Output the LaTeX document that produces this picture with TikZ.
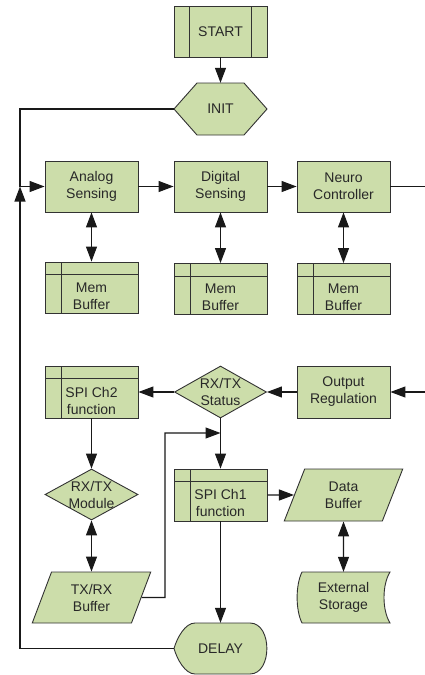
\documentclass[tikz,border=0pt]{standalone}
\usepackage{fontspec}
\setmainfont{Liberation Sans}
\usetikzlibrary{arrows.meta,shapes.geometric,backgrounds}
\definecolor{boxfill}{RGB}{204,221,170}
\definecolor{boxline}{RGB}{50,50,50}
\definecolor{txtclr}{RGB}{40,40,40}
\definecolor{lineclr}{RGB}{25,25,25}
\tikzset{
  shp/.style={draw=boxline, fill=boxfill, line width=0.9pt},
  txt/.style={text=txtclr, font=\fontsize{14}{17}\selectfont, align=center, inner sep=0pt},
  procbox/.style={shp, txt, rectangle, minimum width=93pt, minimum height=51pt},
  predef/.style={procbox, path picture={\draw[boxline, line width=0.9pt]
      ([xshift=15.5pt]path picture bounding box.north west) -- ([xshift=15.5pt]path picture bounding box.south west)
      ([xshift=-15.5pt]path picture bounding box.north east) -- ([xshift=-15.5pt]path picture bounding box.south east);}},
  intstore/.style={procbox, path picture={\draw[boxline, line width=0.9pt]
      ([xshift=16pt]path picture bounding box.north west) -- ([xshift=16pt]path picture bounding box.south west)
      ([yshift=-12.5pt]path picture bounding box.north west) -- ([yshift=-12.5pt]path picture bounding box.north east);}},
  plainbox/.style={txt, rectangle, minimum width=93pt, minimum height=51pt},
  decision/.style={shp, diamond, minimum width=92pt, minimum height=52pt, inner sep=0pt},
  iobox/.style={shp, txt, trapezium, trapezium left angle=70, trapezium right angle=110,
      trapezium stretches=true, minimum width=119pt, minimum height=51pt},
  lbl/.style={txt},
  link/.style={draw=lineclr, line width=1.1pt},
  >={Triangle[length=15pt,width=11pt]}
}
\begin{document}
\begin{tikzpicture}[x=1pt,y=-1pt]
\useasboundingbox (0,0) rectangle (425,675);
% row 1
\node[predef] (start) at (220.5,31.5) {START};
\node[plainbox, minimum height=52pt] (init) at (220.5,109) {INIT};
\node[procbox] (analog) at (91.5,186.5) {Analog\\Sensing};
\node[procbox] (digital) at (220.5,186.5) {Digital\\Sensing};
\node[procbox] (neuro) at (343.5,186.5) {Neuro\\Controller};
\node[intstore, label={[lbl,yshift=-8.5pt]center:Mem\\Buffer}] (mem1) at (91.5,287.5) {};
\node[intstore, label={[lbl,yshift=-8.5pt]center:Mem\\Buffer}] (mem2) at (220.5,289) {};
\node[intstore, label={[lbl,yshift=-8.5pt]center:Mem\\Buffer}] (mem3) at (343.5,289) {};
% row 2
\node[intstore, minimum height=52pt, label={[lbl,yshift=-8.5pt]center:SPI Ch2\\function}] (spi2) at (91.5,392) {};
\node[decision, label={[lbl]center:RX/TX\\Status}] (status) at (220.5,392) {};
\node[procbox, minimum height=52pt] (output) at (343.5,392) {Output\\Regulation};
\node[decision, minimum width=93pt, minimum height=51pt, label={[lbl]center:RX/TX\\Module}] (module) at (91.5,494.5) {};
\node[intstore, minimum height=52pt, label={[lbl,yshift=-8pt]center:SPI Ch1\\function}] (spi1) at (220.5,495) {};
\node[iobox, minimum height=52pt] (data) at (343.5,495) {Data\\Buffer};
\node[iobox] (txrx) at (91.5,597.5) {TX/RX\\Buffer};
\node[plainbox] (ext) at (343.5,597.5) {External\\Storage};
\node[plainbox] (delay) at (220.5,648.5) {DELAY};
% custom outlines
\begin{scope}[on background layer]
  \filldraw[shp] (174,109) -- (197,83) -- (244,83) -- (267,109) -- (244,135) -- (197,135) -- cycle;
  \filldraw[shp] (302,572) -- (390,572) .. controls (382,585) and (382,610) .. (390,623)
     -- (302,623) .. controls (295.5,610) and (295.5,585) .. (302,572) -- cycle;
  \filldraw[shp] (195,623) -- (250,623) .. controls (272.5,623) and (272.5,674) .. (250,674)
     -- (195,674) .. controls (185,674) and (177,659) .. (174,648.5)
     .. controls (177,638) and (185,623) .. (195,623) -- cycle;
\end{scope}
% free ends and bends
\coordinate (jl) at (20,186.5);
\coordinate (rt) at (425,186.5);
\coordinate (rm) at (425,392);
\coordinate (jb) at (165,597.5);
\coordinate (js) at (220.5,433);
% connectors
\draw[link,->] (start) -- (init);
\draw[link,->] (init.west) -| (jl) -- (analog.west);
\draw[link,->] (delay.west) -| (jl);
\draw[link,->] (analog) -- (digital);
\draw[link,->] (digital) -- (neuro);
\draw[link] (neuro) -- (rt);
\draw[link,<->] (analog) -- (mem1);
\draw[link,<->] (digital) -- (mem2);
\draw[link,<->] (neuro) -- (mem3);
\draw[link,->] (rm) -- (output);
\draw[link,->] (output) -- (status);
\draw[link,->] (status) -- (spi2);
\draw[link,->] (spi2) -- (module);
\draw[link,<->] (module) -- (txrx);
\draw[link,->] (txrx.east) -- (jb) |- (js);
\draw[link,->] (status) -- (spi1);
\draw[link,->] (spi1) -- (data);
\draw[link,<->] (data) -- (ext);
\draw[link,->] (spi1) -- (delay);
\end{tikzpicture}
\end{document}
